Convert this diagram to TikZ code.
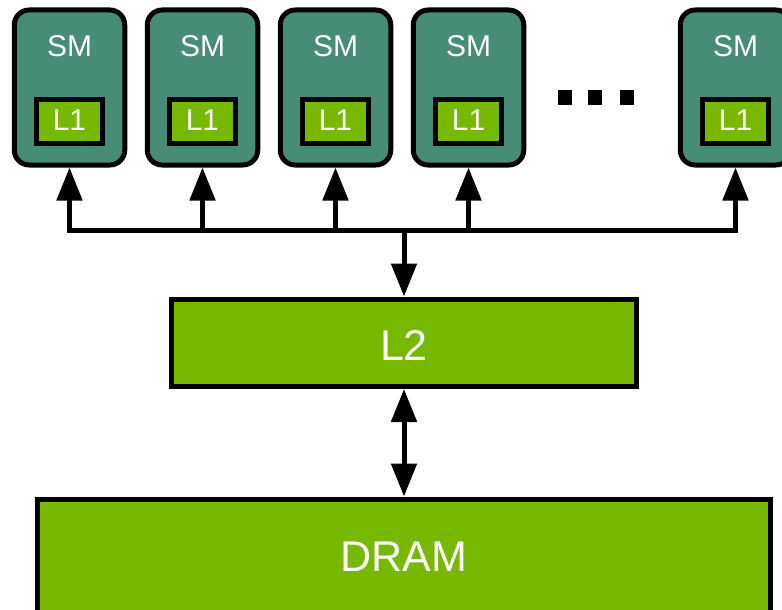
\documentclass[tikz,border=0pt]{standalone}
\usepackage{fontspec}
\setmainfont{Liberation Sans}
\usetikzlibrary{arrows.meta}
\definecolor{smteal}{RGB}{70,140,118}
\definecolor{nvgreen}{RGB}{118,185,0}
\tikzset{
  smbox/.style={draw=black, line width=5pt, fill=smteal, rounded corners=15pt,
    minimum width=110.5pt, minimum height=155pt, inner sep=0pt},
  lonebox/.style={draw=black, line width=5pt, fill=nvgreen,
    minimum width=66.5pt, minimum height=44pt, inner sep=0pt},
  bigbox/.style={draw=black, line width=5pt, fill=nvgreen, inner sep=0pt},
  smtext/.style={text=white, font=\fontsize{30}{30}\selectfont, anchor=base, inner sep=0pt},
  bigtext/.style={text=white, font=\fontsize{43}{43}\selectfont, anchor=base, inner sep=0pt},
  conn/.style={draw=black, line width=5pt, line join=miter},
  tip/.style={-{Triangle[length=33pt,width=25pt]}},
  dtip/.style={{Triangle[length=33pt,width=25pt]}-{Triangle[length=33pt,width=25pt]}},
  dotsq/.style={fill=black, draw=none, minimum width=14pt, minimum height=15pt, inner sep=0pt}
}
\begin{document}
\begin{tikzpicture}[x=1pt,y=-1pt]
\useasboundingbox (0,0) rectangle (782,610);
\clip (0,0) rectangle (782,610);
\fill[white] (0,0) rectangle (782,610);
\foreach \i/\x in {1/69.5,2/202.5,3/335.5,4/468.5,5/735.5}{
  \node[smbox] (sm\i) at (\x,87.5) {};
  \node[smtext] (smt\i) at (\x,57) {SM};
  \node[lonebox] (lone\i) at (\x,121.5) {};
  \node[smtext] (lonet\i) at (\x,130) {L1};
  \coordinate (b\i) at (\x,230);
}
\node[dotsq] (d1) at (565,97.5) {};
\node[dotsq] (d2) at (595,97.5) {};
\node[dotsq] (d3) at (627,97.5) {};
\node[bigbox, minimum width=465pt, minimum height=87.5pt] (l2) at (404,342.75) {};
\node[bigtext] (l2t) at (404,360) {L2};
\node[bigbox, minimum width=733pt, minimum height=130pt] (dram) at (404,564) {};
\node[bigtext] (dramt) at (404,571.5) {DRAM};
\coordinate (bc) at (404,230);
\draw[conn,dtip] (sm1.south) -- (b1) -- (b5) -- (sm5.south);
\draw[conn,tip] (b2) -- (sm2.south);
\draw[conn,tip] (b3) -- (sm3.south);
\draw[conn,tip] (b4) -- (sm4.south);
\draw[conn,tip] (bc) -- (l2.north);
\draw[conn,dtip] (l2.south) -- (dram.north);
\end{tikzpicture}
\end{document}
